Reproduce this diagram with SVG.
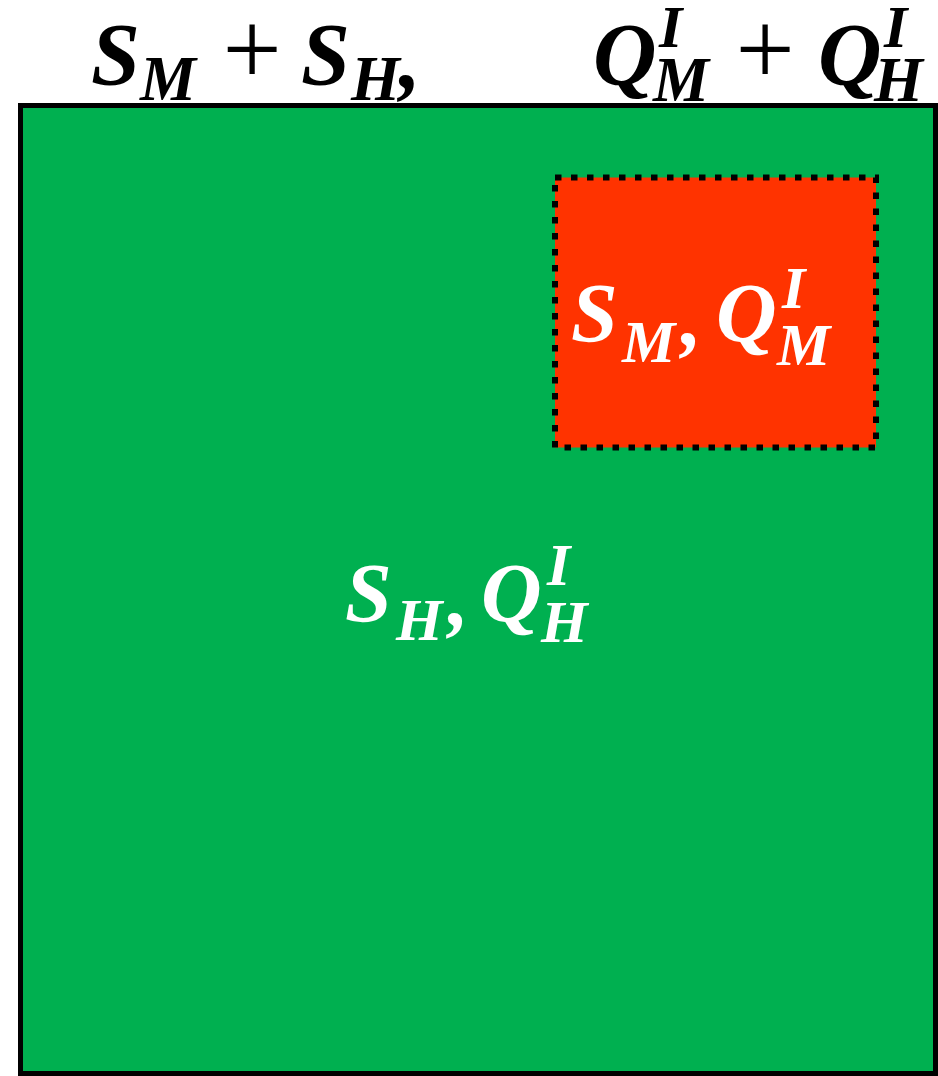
<svg xmlns="http://www.w3.org/2000/svg" width="938" height="1076" viewBox="0 0 938 1076">
<style>
.m{font-family:"Liberation Serif","Times New Roman",serif;font-weight:bold;font-style:italic}
.b{font-size:88px}.s{font-size:63px}.sup{font-size:60px}
.rb{font-size:84px}.rs{font-size:60px}
.plus{font-family:"Liberation Serif","Times New Roman",serif;font-size:105px;text-anchor:middle}
</style>
<rect width="938" height="1076" fill="#fff"/>
<g id="outer">
<rect x="20.5" y="105.5" width="915" height="968" fill="#00B050" stroke="#000" stroke-width="5"/>
</g>
<g id="inner">
<rect x="555" y="177.5" width="321" height="270" fill="#FF3300" stroke="#000" stroke-width="6" stroke-dasharray="6.5 9.5"/>
</g>
<g id="top-label" fill="#000">
<text class="m"><tspan class="b" x="91" y="84">S</tspan><tspan class="s" x="140" y="100">M</tspan></text>
<text class="plus" x="252" y="85">+</text>
<text class="m"><tspan class="b" x="301" y="84">S</tspan><tspan class="s" x="351" y="100">H</tspan><tspan class="b" x="399" y="88">,</tspan></text>
<text class="m"><tspan class="b" x="593" y="84">Q</tspan><tspan class="sup" x="659" y="47">I</tspan><tspan class="s" x="653" y="101">M</tspan></text>
<text class="plus" x="765" y="85">+</text>
<text class="m"><tspan class="b" x="818" y="84">Q</tspan><tspan class="sup" x="884" y="47">I</tspan><tspan class="s" x="874" y="101">H</tspan></text>
</g>
<g id="inner-label" class="m" fill="#fff">
<text><tspan class="rb" x="571" y="342">S</tspan><tspan class="rs" x="622" y="362">M</tspan><tspan class="rb" x="681" y="345">,</tspan><tspan class="rb" x="716" y="342">Q</tspan><tspan class="rs" x="782" y="308">I</tspan><tspan class="rs" x="777" y="365">M</tspan></text>
</g>
<g id="outer-label" class="m" fill="#fff">
<text><tspan class="rb" x="345" y="622">S</tspan><tspan class="rs" x="396" y="640">H</tspan><tspan class="rb" x="448" y="625">,</tspan><tspan class="rb" x="481" y="622">Q</tspan><tspan class="rs" x="547" y="585">I</tspan><tspan class="rs" x="541" y="642">H</tspan></text>
</g>
</svg>
